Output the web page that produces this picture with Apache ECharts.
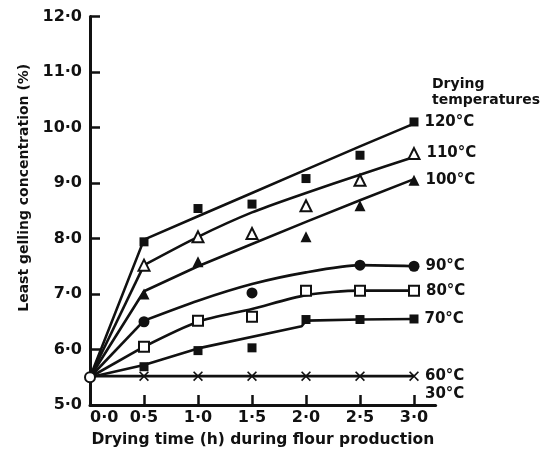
<!DOCTYPE html>
<html>
<head>
<meta charset="utf-8">
<script src="https://cdn.jsdelivr.net/npm/echarts@6/dist/echarts.min.js"></script>
<style>html,body{margin:0;padding:0;background:#fff}#c{width:542px;height:455px}</style>
</head>
<body>
<div id="c"></div>
<script>
// ---- data ----
const times = [0.5, 1.0, 1.5, 2.0, 2.5, 3.0];
const xTickValues = [0.5, 1.0, 1.5, 2.0, 2.5, 3.0];
const xLabelValues = [0, 0.5, 1.0, 1.5, 2.0, 2.5, 3.0];
const origin = [0, 5.5];

const pts120 = [7.94, 8.54, 8.62, 9.08, 9.50, 10.10];
const pts110 = [7.52, 8.03, 8.09, 8.59, 9.05, 9.53];
const pts100 = [7.00, 7.58, null, 8.03, 8.59, 9.05];
const pts90  = [6.50, null, 7.02, null, 7.52, 7.50];
const pts80  = [6.05, 6.52, 6.59, 7.06, 7.06, 7.06];
const pts70  = [5.69, 5.98, 6.03, 6.54, 6.54, 6.55];
const pts60  = [5.52, 5.52, 5.52, 5.52, 5.52, 5.52];

const fitTimes = [0, 0.5, 1.0, 1.5, 2.0, 2.5, 3.0];
const fit120 = [5.5, 7.98, 8.40, 8.82, 9.24, 9.66, 10.07];
const fit110 = [5.5, 7.52, 8.03, 8.47, 8.82, 9.15, 9.47];
const fit100 = [5.5, 7.05, 7.50, 7.90, 8.30, 8.69, 9.07];
const fit90  = [5.5, 6.52, 6.88, 7.18, 7.39, 7.52, 7.50];
const fit80  = [5.5, 6.05, 6.50, 6.73, 6.98, 7.06, 7.06];
const fit70Times = [0, 0.5, 1.0, 1.96, 2.0, 2.5, 3.0];
const fit70  = [5.5, 5.72, 6.02, 6.42, 6.52, 6.54, 6.55];
const fit60Times = [0, 3.0];
const fit60  = [5.52, 5.52];

const tempLabels = ['120°C', '110°C', '100°C', '90°C', '80°C', '70°C', '60°C'];
const extraLabel = '30°C';
const legendTitle = 'Drying\ntemperatures';

// ---- chart ----
const INK = '#111';
const fmt = v => v.toFixed(1).replace('.', '·');
const labelStyle = {fontFamily: 'DejaVu Sans', fontWeight: 'bold', fontSize: 15, color: INK};

function pointData(ys, label, extra) {
  const out = [];
  times.forEach((t, i) => {
    if (ys[i] == null) return;
    if (i === times.length - 1) {
      out.push({value: [t, ys[i]], label: Object.assign({show: true, position: 'right', distance: 6, formatter: label}, labelStyle, extra || {})});
    } else out.push([t, ys[i]]);
  });
  return out;
}
function lineData(xs, ys) { return xs.map((x, i) => [x, ys[i]]); }
function lineSeries(data, smooth) {
  return {type: 'line', data: data, showSymbol: false, symbol: 'none', smooth: smooth ? 0.25 : false,
    silent: true, lineStyle: {color: INK, width: 2.6}, z: 2};
}
function fitLine(xs, ys, smooth) {
  const d = lineData(xs, ys);
  if (!smooth) return [lineSeries(d, false)];
  // straight rise from the common origin, then a smooth fitted curve
  return [lineSeries(d.slice(0, 2), false), lineSeries(d.slice(1), true)];
}
function scatter(data, symbol, size, filled) {
  return {type: 'scatter', data: data, symbol: symbol, symbolSize: size, silent: true, z: 5,
    itemStyle: {color: filled ? INK : '#fff', borderColor: INK, borderWidth: filled ? 0 : 2, opacity: 1}};
}
const xPath = 'path://M0,1.2 L1.2,0 L5,4.2 L8.8,0 L10,1.2 L6.1,5.5 L10,9.8 L8.8,11 L5,6.8 L1.2,11 L0,9.8 L3.9,5.5 Z';

const chart = echarts.init(document.getElementById('c'), null, {renderer: 'canvas'});
chart.setOption({
  animation: false,
  backgroundColor: '#fff',
  title: {text: legendTitle, left: 427, top: 71,
    textStyle: {fontFamily: 'DejaVu Sans', fontWeight: 'bold', fontSize: 14, lineHeight: 16, color: INK}},
  grid: {left: 90, right: 106.4, top: 16.5, bottom: 50},
  xAxis: {
    type: 'value', min: 0, max: 3.2,
    name: 'Drying time (h) during flour production', nameLocation: 'middle', nameGap: 27,
    nameTextStyle: {fontFamily: 'DejaVu Sans', fontWeight: 'bold', fontSize: 15.5, color: INK},
    axisLine: {show: true, lineStyle: {color: INK, width: 3}},
    axisTick: {show: true, inside: true, length: 10, customValues: xTickValues, lineStyle: {color: INK, width: 2.5}},
    axisLabel: {show: true, customValues: xLabelValues, formatter: fmt, margin: 5, alignMinLabel: 'left',
      fontFamily: 'DejaVu Sans', fontWeight: 'bold', fontSize: 16, color: INK},
    splitLine: {show: false}
  },
  yAxis: {
    type: 'value', min: 5, max: 12, interval: 1,
    name: 'Least gelling concentration (%)', nameLocation: 'middle', nameGap: 53,
    nameTextStyle: {fontFamily: 'DejaVu Sans', fontWeight: 'bold', fontSize: 14, color: INK, padding: [0, 0, 0, 46]},
    axisLine: {show: true, lineStyle: {color: INK, width: 3}},
    axisTick: {show: true, inside: true, length: 10, lineStyle: {color: INK, width: 2.5}},
    axisLabel: {formatter: fmt, margin: 8, fontFamily: 'DejaVu Sans', fontWeight: 'bold', fontSize: 16, color: INK},
    splitLine: {show: false}
  },
  series: [].concat(
    fitLine(fitTimes, fit120, false),
    fitLine(fitTimes, fit110, true),
    fitLine(fitTimes, fit100, false),
    fitLine(fitTimes, fit90, true),
    fitLine(fitTimes, fit80, true),
    fitLine(fit70Times, fit70, false),
    fitLine(fit60Times, fit60, false),
    [
      scatter(pointData(pts120, tempLabels[0]), 'rect', 9, true),
      scatter(pointData(pts110, tempLabels[1]), 'triangle', 11, false),
      scatter(pointData(pts100, tempLabels[2]), 'triangle', 11, true),
      scatter(pointData(pts90, tempLabels[3]), 'circle', 11, true),
      scatter(pointData(pts80, tempLabels[4]), 'rect', 10, false),
      scatter(pointData(pts70, tempLabels[5]), 'rect', 9, true),
      scatter(pointData(pts60, tempLabels[6] + '\n' + extraLabel, {lineHeight: 18, offset: [0, 9]}), xPath, 10, true),
      scatter([origin], 'circle', 10, false)
    ]
  )
});
</script>
</body>
</html>
